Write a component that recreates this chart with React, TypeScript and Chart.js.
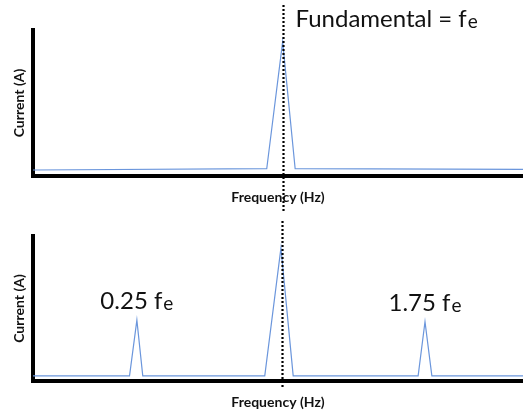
import React, { useEffect, useRef } from "react";
import { Chart, registerables } from "chart.js";

Chart.register(...registerables);

// Frequency positions (axis units 0..100) and current amplitudes (axis units 0..100)
const topFreq = [0, 47.7, 50.95, 53.5, 100];
const topCurrent = [4.1, 5.0, 92, 5.0, 4.6];
const topFundamental = 50.95;

const bottomFreq = [0, 19.7, 21.2, 22.4, 47.3, 50.6, 53.1, 78.6, 80.0, 81.4, 100];
const bottomCurrent = [3.5, 3.5, 42, 3.5, 3.5, 91.7, 3.5, 3.5, 40.9, 3.5, 3.5];
const bottomFundamental = 50.75;

const topLabel = "Fundamental = f";
const subLabel = "e";
const sideLabels = [
  { text: "0.25 f", at: 21.2, peak: 42 },
  { text: "1.75 f", at: 80.0, peak: 40.9 },
];
const xTitle = "Frequency (Hz)";
const yTitle = "Current (A)";

const FONT = "Lato, 'Open Sans', sans-serif";
const LINE_COLOR = "#6b96dc";

type PanelCfg = {
  freq: number[];
  current: number[];
  fundamental: number;
  width: number;
  height: number;
  chartTop: number;
  chartBottom: number;
  dotTop: number;
  dotBottom: number;
  xTitlePad: number;
  isTop: boolean;
};

function drawSubText(ctx: CanvasRenderingContext2D, main: string, x: number, y: number, align: "left" | "center") {
  const mainFont = `24px ${FONT}`;
  const subFont = `19px ${FONT}`;
  ctx.font = mainFont;
  const w1 = ctx.measureText(main).width;
  ctx.font = subFont;
  const w2 = ctx.measureText(subLabel).width;
  const total = w1 + 1 + w2;
  const startX = align === "center" ? x - total / 2 : x;
  ctx.fillStyle = "#111";
  ctx.textAlign = "left";
  ctx.textBaseline = "alphabetic";
  ctx.font = mainFont;
  ctx.fillText(main, startX, y);
  ctx.font = subFont;
  ctx.fillText(subLabel, startX + w1 + 1, y + 1);
}

function Panel(props: PanelCfg) {
  const ref = useRef<HTMLCanvasElement | null>(null);
  useEffect(() => {
    if (!ref.current) return;
    const p = props;
    const overlay = {
      id: "overlay",
      afterDatasetsDraw(chart: any) {
        const ctx = chart.ctx as CanvasRenderingContext2D;
        const xs = chart.scales.x;
        const ys = chart.scales.y;
        const fx = Math.round(xs.getPixelForValue(p.fundamental)) + 0.5;
        ctx.save();
        ctx.strokeStyle = "#000";
        ctx.lineWidth = 2.2;
        ctx.setLineDash([2, 2]);
        ctx.beginPath();
        ctx.moveTo(fx, p.dotTop);
        ctx.lineTo(fx, p.dotBottom);
        ctx.stroke();
        ctx.setLineDash([]);
        if (p.isTop) {
          drawSubText(ctx, topLabel, fx + 12, 27, "left");
        } else {
          for (const l of sideLabels) {
            const px = xs.getPixelForValue(l.at);
            const py = ys.getPixelForValue(l.peak);
            drawSubText(ctx, l.text, px, py - 11, "center");
          }
        }
        ctx.restore();
      },
    };
    const chart = new Chart(ref.current, {
      type: "line",
      data: {
        datasets: [
          {
            data: p.freq.map((f, i) => ({ x: f, y: p.current[i] })),
            borderColor: LINE_COLOR,
            borderWidth: 1.2,
            pointRadius: 0,
            tension: 0,
            fill: false,
          },
        ],
      },
      options: {
        responsive: false,
        animation: false,
        events: [],
        layout: { padding: { top: p.chartTop, right: 0, left: 0, bottom: 0 } },
        plugins: { legend: { display: false }, tooltip: { enabled: false } },
        scales: {
          x: {
            type: "linear",
            min: 0,
            max: 100,
            grid: { display: false, drawTicks: false },
            border: { display: true, width: 4, color: "#000" },
            ticks: { display: false },
            title: {
              display: true,
              text: xTitle,
              color: "#111",
              font: { family: FONT, size: 14, weight: "bold" },
              padding: { top: 0, bottom: p.xTitlePad },
            },
            afterFit: (s: any) => {
              s.height = p.height - p.chartBottom;
            },
          },
          y: {
            type: "linear",
            min: 0,
            max: 100,
            grid: { display: false, drawTicks: false },
            border: { display: true, width: 4, color: "#000" },
            ticks: { display: false },
            title: {
              display: true,
              text: yTitle,
              color: "#111",
              font: { family: FONT, size: 14, weight: "bold" },
              padding: { top: 11.5, bottom: 0 },
            },
            afterFit: (s: any) => {
              s.width = 33;
            },
          },
        },
      },
      plugins: [overlay],
    } as any);
    return () => chart.destroy();
  }, []);
  return (
    <canvas
      ref={ref}
      width={props.width}
      height={props.height}
      style={{ display: "block", width: props.width, height: props.height }}
    />
  );
}

export default function App() {
  return (
    <div style={{ position: "fixed", left: 0, top: 0, width: 523, height: 411, background: "#fff" }}>
      <Panel
        freq={topFreq}
        current={topCurrent}
        fundamental={topFundamental}
        width={523}
        height={215}
        chartTop={30}
        chartBottom={176}
        dotTop={5}
        dotBottom={211}
        xTitlePad={9.5}
        isTop={true}
      />
      <Panel
        freq={bottomFreq}
        current={bottomCurrent}
        fundamental={bottomFundamental}
        width={523}
        height={196}
        chartTop={21}
        chartBottom={166}
        dotTop={6}
        dotBottom={174}
        xTitlePad={0.5}
        isTop={false}
      />
    </div>
  );
}
